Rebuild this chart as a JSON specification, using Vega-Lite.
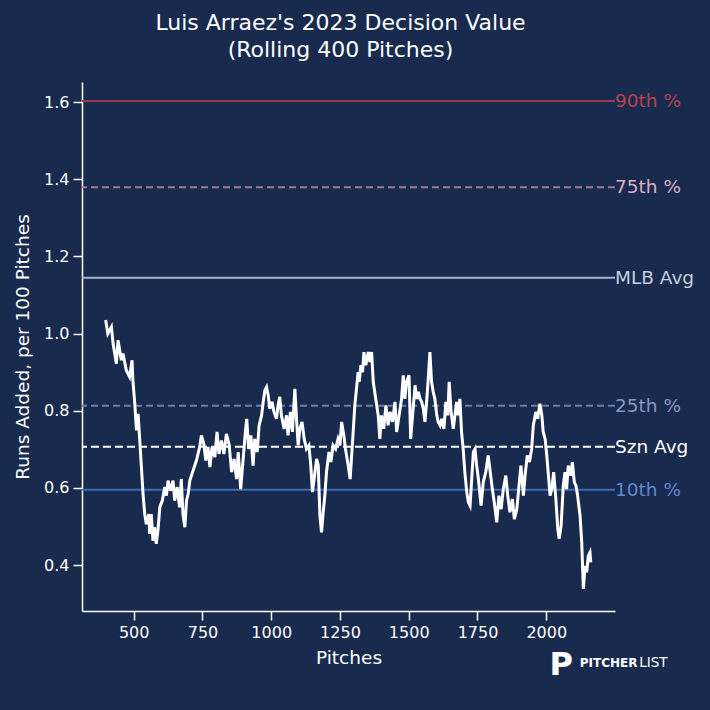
{
  "$schema": "https://vega.github.io/schema/vega-lite/v6.json",
  "width": 533,
  "height": 529,
  "autosize": {"type": "none"},
  "padding": {"left": 82, "top": 82, "right": 95, "bottom": 99},
  "background": "#182a4e",
  "title": {
    "text": ["Luis Arraez's 2023 Decision Value", "(Rolling 400 Pitches)"],
    "font": "DejaVu Sans",
    "fontSize": 22,
    "fontWeight": "normal",
    "color": "#ffffff",
    "lineHeight": 27,
    "offset": 20,
    "dx": -8
  },
  "datasets": {
    "roll": [
      {"pitch": 398, "dv": 1.035}, {"pitch": 406, "dv": 1.0}, {"pitch": 419, "dv": 1.017}, {"pitch": 425, "dv": 0.974},
      {"pitch": 437, "dv": 0.922}, {"pitch": 443, "dv": 0.983}, {"pitch": 455, "dv": 0.931}, {"pitch": 461, "dv": 0.948},
      {"pitch": 473, "dv": 0.905}, {"pitch": 485, "dv": 0.888}, {"pitch": 494, "dv": 0.931}, {"pitch": 497, "dv": 0.879},
      {"pitch": 504, "dv": 0.818}, {"pitch": 510, "dv": 0.749}, {"pitch": 516, "dv": 0.792}, {"pitch": 522, "dv": 0.723},
      {"pitch": 528, "dv": 0.654}, {"pitch": 534, "dv": 0.584}, {"pitch": 540, "dv": 0.532}, {"pitch": 546, "dv": 0.506},
      {"pitch": 555, "dv": 0.532}, {"pitch": 558, "dv": 0.481}, {"pitch": 564, "dv": 0.532}, {"pitch": 570, "dv": 0.463},
      {"pitch": 576, "dv": 0.498}, {"pitch": 582, "dv": 0.455}, {"pitch": 588, "dv": 0.489}, {"pitch": 595, "dv": 0.55},
      {"pitch": 604, "dv": 0.567}, {"pitch": 613, "dv": 0.602}, {"pitch": 619, "dv": 0.58}, {"pitch": 625, "dv": 0.619},
      {"pitch": 634, "dv": 0.593}, {"pitch": 643, "dv": 0.619}, {"pitch": 649, "dv": 0.567}, {"pitch": 658, "dv": 0.602},
      {"pitch": 667, "dv": 0.55}, {"pitch": 673, "dv": 0.623}, {"pitch": 679, "dv": 0.532}, {"pitch": 686, "dv": 0.498},
      {"pitch": 692, "dv": 0.567}, {"pitch": 698, "dv": 0.584}, {"pitch": 704, "dv": 0.619}, {"pitch": 716, "dv": 0.645},
      {"pitch": 728, "dv": 0.671}, {"pitch": 740, "dv": 0.706}, {"pitch": 746, "dv": 0.736}, {"pitch": 755, "dv": 0.714},
      {"pitch": 762, "dv": 0.671}, {"pitch": 770, "dv": 0.706}, {"pitch": 777, "dv": 0.654}, {"pitch": 785, "dv": 0.706},
      {"pitch": 795, "dv": 0.68}, {"pitch": 803, "dv": 0.745}, {"pitch": 810, "dv": 0.688}, {"pitch": 819, "dv": 0.723},
      {"pitch": 828, "dv": 0.688}, {"pitch": 837, "dv": 0.74}, {"pitch": 847, "dv": 0.712}, {"pitch": 856, "dv": 0.641},
      {"pitch": 865, "dv": 0.675}, {"pitch": 874, "dv": 0.623}, {"pitch": 880, "dv": 0.693}, {"pitch": 889, "dv": 0.597},
      {"pitch": 898, "dv": 0.675}, {"pitch": 906, "dv": 0.745}, {"pitch": 911, "dv": 0.779}, {"pitch": 918, "dv": 0.701},
      {"pitch": 926, "dv": 0.736}, {"pitch": 934, "dv": 0.658}, {"pitch": 940, "dv": 0.727}, {"pitch": 949, "dv": 0.693},
      {"pitch": 956, "dv": 0.762}, {"pitch": 965, "dv": 0.788}, {"pitch": 971, "dv": 0.823}, {"pitch": 977, "dv": 0.853},
      {"pitch": 983, "dv": 0.861}, {"pitch": 989, "dv": 0.84}, {"pitch": 995, "dv": 0.805}, {"pitch": 1003, "dv": 0.823},
      {"pitch": 1010, "dv": 0.797}, {"pitch": 1019, "dv": 0.779}, {"pitch": 1025, "dv": 0.814}, {"pitch": 1031, "dv": 0.836},
      {"pitch": 1037, "dv": 0.788}, {"pitch": 1047, "dv": 0.753}, {"pitch": 1056, "dv": 0.788}, {"pitch": 1061, "dv": 0.736},
      {"pitch": 1070, "dv": 0.797}, {"pitch": 1077, "dv": 0.745}, {"pitch": 1086, "dv": 0.857}, {"pitch": 1092, "dv": 0.779},
      {"pitch": 1098, "dv": 0.71}, {"pitch": 1104, "dv": 0.753}, {"pitch": 1112, "dv": 0.771}, {"pitch": 1120, "dv": 0.727},
      {"pitch": 1128, "dv": 0.701}, {"pitch": 1137, "dv": 0.71}, {"pitch": 1144, "dv": 0.658}, {"pitch": 1150, "dv": 0.589},
      {"pitch": 1156, "dv": 0.623}, {"pitch": 1165, "dv": 0.675}, {"pitch": 1171, "dv": 0.658}, {"pitch": 1177, "dv": 0.528},
      {"pitch": 1183, "dv": 0.485}, {"pitch": 1189, "dv": 0.537}, {"pitch": 1195, "dv": 0.58}, {"pitch": 1201, "dv": 0.641},
      {"pitch": 1210, "dv": 0.693}, {"pitch": 1217, "dv": 0.667}, {"pitch": 1225, "dv": 0.71}, {"pitch": 1234, "dv": 0.701},
      {"pitch": 1243, "dv": 0.727}, {"pitch": 1250, "dv": 0.71}, {"pitch": 1256, "dv": 0.771}, {"pitch": 1264, "dv": 0.736},
      {"pitch": 1270, "dv": 0.701}, {"pitch": 1280, "dv": 0.658}, {"pitch": 1287, "dv": 0.623}, {"pitch": 1294, "dv": 0.701},
      {"pitch": 1298, "dv": 0.745}, {"pitch": 1304, "dv": 0.814}, {"pitch": 1310, "dv": 0.857}, {"pitch": 1316, "dv": 0.9},
      {"pitch": 1320, "dv": 0.875}, {"pitch": 1326, "dv": 0.918}, {"pitch": 1332, "dv": 0.9}, {"pitch": 1337, "dv": 0.952},
      {"pitch": 1344, "dv": 0.918}, {"pitch": 1353, "dv": 0.952}, {"pitch": 1359, "dv": 0.926}, {"pitch": 1365, "dv": 0.952},
      {"pitch": 1371, "dv": 0.875}, {"pitch": 1380, "dv": 0.831}, {"pitch": 1389, "dv": 0.788}, {"pitch": 1395, "dv": 0.727},
      {"pitch": 1401, "dv": 0.788}, {"pitch": 1409, "dv": 0.753}, {"pitch": 1417, "dv": 0.814}, {"pitch": 1425, "dv": 0.762},
      {"pitch": 1432, "dv": 0.797}, {"pitch": 1441, "dv": 0.771}, {"pitch": 1450, "dv": 0.823}, {"pitch": 1456, "dv": 0.745},
      {"pitch": 1465, "dv": 0.788}, {"pitch": 1474, "dv": 0.831}, {"pitch": 1480, "dv": 0.892}, {"pitch": 1486, "dv": 0.831},
      {"pitch": 1492, "dv": 0.875}, {"pitch": 1501, "dv": 0.892}, {"pitch": 1507, "dv": 0.727}, {"pitch": 1514, "dv": 0.788},
      {"pitch": 1523, "dv": 0.866}, {"pitch": 1529, "dv": 0.831}, {"pitch": 1535, "dv": 0.849}, {"pitch": 1541, "dv": 0.831},
      {"pitch": 1547, "dv": 0.823}, {"pitch": 1553, "dv": 0.805}, {"pitch": 1559, "dv": 0.771}, {"pitch": 1565, "dv": 0.823},
      {"pitch": 1571, "dv": 0.883}, {"pitch": 1577, "dv": 0.952}, {"pitch": 1583, "dv": 0.875}, {"pitch": 1589, "dv": 0.849},
      {"pitch": 1595, "dv": 0.831}, {"pitch": 1602, "dv": 0.788}, {"pitch": 1607, "dv": 0.771}, {"pitch": 1614, "dv": 0.762},
      {"pitch": 1620, "dv": 0.779}, {"pitch": 1628, "dv": 0.753}, {"pitch": 1635, "dv": 0.823}, {"pitch": 1642, "dv": 0.788},
      {"pitch": 1647, "dv": 0.875}, {"pitch": 1654, "dv": 0.797}, {"pitch": 1662, "dv": 0.753}, {"pitch": 1668, "dv": 0.788},
      {"pitch": 1674, "dv": 0.823}, {"pitch": 1680, "dv": 0.788}, {"pitch": 1686, "dv": 0.831}, {"pitch": 1692, "dv": 0.745},
      {"pitch": 1698, "dv": 0.701}, {"pitch": 1704, "dv": 0.641}, {"pitch": 1711, "dv": 0.589}, {"pitch": 1717, "dv": 0.563},
      {"pitch": 1723, "dv": 0.554}, {"pitch": 1729, "dv": 0.623}, {"pitch": 1735, "dv": 0.693}, {"pitch": 1741, "dv": 0.701},
      {"pitch": 1747, "dv": 0.658}, {"pitch": 1753, "dv": 0.625}, {"pitch": 1763, "dv": 0.554}, {"pitch": 1771, "dv": 0.615},
      {"pitch": 1780, "dv": 0.641}, {"pitch": 1789, "dv": 0.684}, {"pitch": 1795, "dv": 0.649}, {"pitch": 1804, "dv": 0.597},
      {"pitch": 1811, "dv": 0.563}, {"pitch": 1820, "dv": 0.511}, {"pitch": 1828, "dv": 0.58}, {"pitch": 1836, "dv": 0.545},
      {"pitch": 1844, "dv": 0.597}, {"pitch": 1853, "dv": 0.632}, {"pitch": 1860, "dv": 0.58}, {"pitch": 1868, "dv": 0.537},
      {"pitch": 1877, "dv": 0.571}, {"pitch": 1884, "dv": 0.519}, {"pitch": 1893, "dv": 0.545}, {"pitch": 1901, "dv": 0.606},
      {"pitch": 1908, "dv": 0.658}, {"pitch": 1917, "dv": 0.58}, {"pitch": 1923, "dv": 0.632}, {"pitch": 1931, "dv": 0.684},
      {"pitch": 1939, "dv": 0.667}, {"pitch": 1947, "dv": 0.701}, {"pitch": 1953, "dv": 0.762}, {"pitch": 1962, "dv": 0.797},
      {"pitch": 1969, "dv": 0.779}, {"pitch": 1977, "dv": 0.818}, {"pitch": 1984, "dv": 0.788}, {"pitch": 1989, "dv": 0.745},
      {"pitch": 1996, "dv": 0.727}, {"pitch": 2002, "dv": 0.684}, {"pitch": 2008, "dv": 0.632}, {"pitch": 2014, "dv": 0.58},
      {"pitch": 2020, "dv": 0.597}, {"pitch": 2027, "dv": 0.641}, {"pitch": 2035, "dv": 0.571}, {"pitch": 2042, "dv": 0.494},
      {"pitch": 2047, "dv": 0.468}, {"pitch": 2054, "dv": 0.502}, {"pitch": 2062, "dv": 0.606}, {"pitch": 2068, "dv": 0.641},
      {"pitch": 2074, "dv": 0.597}, {"pitch": 2080, "dv": 0.658}, {"pitch": 2089, "dv": 0.632}, {"pitch": 2095, "dv": 0.667},
      {"pitch": 2102, "dv": 0.615}, {"pitch": 2108, "dv": 0.606}, {"pitch": 2114, "dv": 0.58}, {"pitch": 2123, "dv": 0.528},
      {"pitch": 2129, "dv": 0.459}, {"pitch": 2135, "dv": 0.338}, {"pitch": 2141, "dv": 0.398}, {"pitch": 2147, "dv": 0.381},
      {"pitch": 2153, "dv": 0.424}, {"pitch": 2159, "dv": 0.433}, {"pitch": 2162, "dv": 0.407}
    ],
    "refs": [
      {"label": "90th %", "value": 1.603},
      {"label": "75th %", "value": 1.379},
      {"label": "MLB Avg", "value": 1.145},
      {"label": "25th %", "value": 0.813},
      {"label": "Szn Avg", "value": 0.7065},
      {"label": "10th %", "value": 0.595}
    ],
    "brand": [
      {"part": "P", "pitch": 2012, "dv": 0.141},
      {"part": "PITCHER", "pitch": 2122, "dv": 0.146},
      {"part": "LIST", "pitch": 2338, "dv": 0.146}
    ]
  },
  "encoding": {
    "x": {
      "type": "quantitative",
      "scale": {"domain": [312, 2250], "nice": false, "zero": false},
      "axis": {"title": "Pitches", "values": [500, 750, 1000, 1250, 1500, 1750, 2000], "format": "d", "titlePadding": 8}
    },
    "y": {
      "type": "quantitative",
      "scale": {"domain": [0.281, 1.652], "nice": false, "zero": false},
      "axis": {"title": "Runs Added, per 100 Pitches", "values": [0.4, 0.6, 0.8, 1.0, 1.2, 1.4, 1.6], "format": ".1f", "titlePadding": 11}
    }
  },
  "layer": [
    {
      "data": {"name": "refs"},
      "mark": {"type": "rule", "strokeWidth": 2},
      "encoding": {
        "y": {"field": "value", "type": "quantitative"},
        "color": {
          "field": "label",
          "type": "nominal",
          "legend": null,
          "scale": {
            "domain": ["90th %", "75th %", "MLB Avg", "25th %", "Szn Avg", "10th %"],
            "range": ["#9a3a4c", "#a07a8e", "#aab2c6", "#6e7fa8", "#ffffff", "#3e6db6"]
          }
        },
        "strokeDash": {
          "field": "label",
          "type": "nominal",
          "legend": null,
          "scale": {
            "domain": ["90th %", "75th %", "MLB Avg", "25th %", "Szn Avg", "10th %"],
            "range": [[1, 0], [7, 4], [1, 0], [7, 4], [8, 4], [1, 0]]
          }
        }
      }
    },
    {
      "data": {"name": "roll"},
      "mark": {"type": "line", "color": "#ffffff", "strokeWidth": 3},
      "encoding": {
        "x": {"field": "pitch", "type": "quantitative"},
        "y": {"field": "dv", "type": "quantitative"}
      }
    },
    {
      "data": {"name": "refs"},
      "mark": {"type": "text", "align": "left", "baseline": "middle", "dx": 0, "font": "DejaVu Sans", "fontSize": 18.5},
      "encoding": {
        "x": {"datum": 2250},
        "y": {"field": "value", "type": "quantitative"},
        "text": {"field": "label"},
        "color": {
          "field": "label",
          "type": "nominal",
          "legend": null,
          "scale": {
            "domain": ["90th %", "75th %", "MLB Avg", "25th %", "Szn Avg", "10th %"],
            "range": ["#b8424f", "#d9b0c0", "#c6cddb", "#8898c2", "#ffffff", "#6089cf"]
          }
        }
      }
    },
    {
      "data": {"name": "brand"},
      "transform": [{"filter": "datum.part === 'P'"}],
      "mark": {"type": "text", "font": "DejaVu Sans", "fontWeight": "bold", "fontSize": 32, "color": "#ffffff", "align": "left", "baseline": "middle", "clip": false},
      "encoding": {"x": {"field": "pitch", "type": "quantitative"}, "y": {"field": "dv", "type": "quantitative"}, "text": {"field": "part"}}
    },
    {
      "data": {"name": "brand"},
      "transform": [{"filter": "datum.part === 'PITCHER'"}],
      "mark": {"type": "text", "font": "DejaVu Sans", "fontWeight": "bold", "fontSize": 12, "color": "#ffffff", "align": "left", "baseline": "middle", "clip": false},
      "encoding": {"x": {"field": "pitch", "type": "quantitative"}, "y": {"field": "dv", "type": "quantitative"}, "text": {"field": "part"}}
    },
    {
      "data": {"name": "brand"},
      "transform": [{"filter": "datum.part === 'LIST'"}],
      "mark": {"type": "text", "font": "DejaVu Sans", "fontSize": 13.5, "color": "#ffffff", "align": "left", "baseline": "middle", "clip": false},
      "encoding": {"x": {"field": "pitch", "type": "quantitative"}, "y": {"field": "dv", "type": "quantitative"}, "text": {"field": "part"}}
    }
  ],
  "resolve": {"scale": {"color": "independent"}},
  "config": {
    "view": {"stroke": null},
    "axis": {
      "grid": false,
      "domainColor": "#ffffff",
      "domainWidth": 1.5,
      "tickColor": "#ffffff",
      "tickWidth": 1.5,
      "tickSize": 9,
      "labelPadding": 4,
      "labelFont": "DejaVu Sans",
      "labelFontSize": 16,
      "labelColor": "#ffffff",
      "titleFont": "DejaVu Sans",
      "titleFontSize": 18.5,
      "titleFontWeight": "normal",
      "titleColor": "#ffffff"
    }
  }
}
